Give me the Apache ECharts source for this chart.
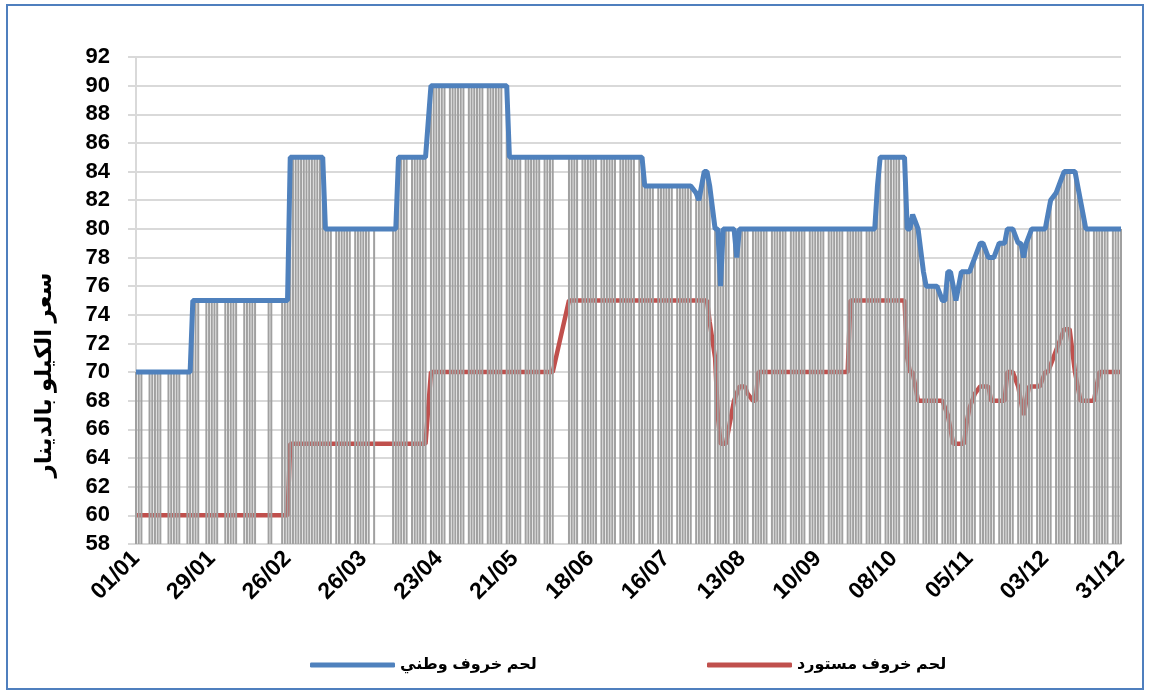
<!DOCTYPE html>
<html><head><meta charset="utf-8">
<script src="https://cdn.jsdelivr.net/npm/echarts@6/dist/echarts.min.js"></script>
<style>html,body{margin:0;padding:0;background:#fff}#c{width:1149px;height:693px}</style>
</head><body><div id="c"></div>
<script>
const _ = null;
const monthDays = [31,28,31,30,31,30,31,31,30,31,30,31];
const seriesNames = ['لحم خروف وطني', 'لحم خروف مستورد'];
const yAxisTitle = 'سعر الكيلو بالدينار';
const yMin = 58, yMax = 92, yStep = 2;
const labelEvery = 28;

// لحم خروف وطني (daily, null = no quote)
const localJan = [70,70,70,_,_,70,70,70,70,70,_,_,70,70,70,70,70,_,_,70,70,75,75,75,_,_,75,75,75,75,75];
const localFeb = [_,_,75,75,75,75,75,_,_,75,75,75,75,75,_,_,_,_,75,75,_,_,_,75,75,75,85,85];
const localMar = [85,85,85,85,85,85,85,85,85,85,85,80,80,80,_,80,80,80,80,80,80,_,80,80,80,80,80,80,_,80,_];
const localApr = [_,_,_,_,_,80,80,85,85,85,85,_,85,85,85,85,85,85,_,90,90,90,90,90,90,_,90,90,90,90];
const localMay = [90,90,_,90,90,90,90,90,90,_,90,90,90,90,90,90,_,90,85,85,85,85,85,_,85,85,85,85,85,85,_];
const localJun = [85,85,85,85,_,_,_,_,_,85,85,85,85,_,85,85,85,85,85,85,_,85,85,85,85,85,85,_,85,85];
const localJul = [85,85,85,85,_,85,85,83,83,83,83,_,83,83,83,83,83,83,_,83,83,83,83,83,83,_,82.5,82,83,84,84];
const localAug = [83,_,80,80,76,80,80,80,_,80,78,80,80,80,80,_,80,80,80,80,80,80,_,80,80,80,80,80,80,_,80];
const localSep = [80,80,80,80,80,_,80,80,80,80,80,80,_,80,80,80,80,80,80,_,80,80,80,80,80,80,_,80,80,80];
const localOct = [80,83,85,_,85,85,85,85,85,85,_,85,80,80,81,80.5,80,_,77,76,76,76,76,76,_,75,75,77,77,76,75];
const localNov = [_,77,77,77,77,77.5,78,_,79,79,78.5,78,78,78,_,79,79,79,80,80,80,_,79,79,78,79,79.5,80,_,80];
const localDec = [80,80,80,81,82,_,82.5,83,83.5,84,84,84,_,84,83,82,81,80,80,_,80,80,80,80,80,80,_,80,80,80,80];

// لحم خروف مستورد
const importJan = [60,60,60,_,_,60,60,60,60,60,_,_,60,60,60,60,60,_,_,60,60,60,60,60,_,_,60,60,60,60,60];
const importFeb = [_,_,60,60,60,60,60,_,_,60,60,60,60,60,_,_,_,_,60,60,_,_,_,60,60,60,65,65];
const importMar = [65,65,65,65,65,65,65,65,65,65,65,65,65,65,_,65,65,65,65,65,65,_,65,65,65,65,65,65,_,65,_];
const importApr = [_,_,_,_,_,65,65,65,65,65,65,_,65,65,65,65,65,65,_,70,70,70,70,70,70,_,70,70,70,70];
const importMay = [70,70,_,70,70,70,70,70,70,_,70,70,70,70,70,70,_,70,70,70,70,70,70,_,70,70,70,70,70,70,_];
const importJun = [70,70,70,70,_,_,_,_,_,75,75,75,75,_,75,75,75,75,75,75,_,75,75,75,75,75,75,_,75,75];
const importJul = [75,75,75,75,_,75,75,75,75,75,75,_,75,75,75,75,75,75,_,75,75,75,75,75,75,_,75,75,75,75,75];
const importAug = [73.5,_,71,67,65,65,65,66,_,68,68.5,69,69,69,68.5,_,68,68,70,70,70,70,_,70,70,70,70,70,70,_,70];
const importSep = [70,70,70,70,70,_,70,70,70,70,70,70,_,70,70,70,70,70,70,_,70,75,75,75,75,75,_,75,75,75];
const importOct = [75,75,75,_,75,75,75,75,75,75,_,75,71,70,70,69,68,_,68,68,68,68,68,68,_,68,67.5,67,66,65,65];
const importNov = [_,65,65,66.5,67.5,68,68.5,_,69,69,69,69,68,68,_,68,68,68,70,70,70,_,69,68,67,68,69,69,_,69];
const importDec = [69,69.5,70,70,70.5,_,71.5,72,72.5,73,73,73,_,70,69,68,68,68,68,_,68,69,70,70,70,70,_,70,70,70,70];

const localPrice = [].concat(localJan,localFeb,localMar,localApr,localMay,localJun,localJul,localAug,localSep,localOct,localNov,localDec);
const importPrice = [].concat(importJan,importFeb,importMar,importApr,importMay,importJun,importJul,importAug,importSep,importOct,importNov,importDec);

const pad = n => (n < 10 ? '0' : '') + n;
const categories = [];
monthDays.forEach((len, m) => { for (let d = 1; d <= len; d++) categories.push(pad(d) + '/' + pad(m + 1)); });

const dropData = [];
localPrice.forEach((v, i) => { if (v !== null) dropData.push([i, Math.max(v, importPrice[i] ?? v)]); });

const FONT = "'Liberation Sans', 'DejaVu Sans', Arial, sans-serif";
const GRID = '#d9d9d9';
const legendText = {fontFamily: FONT, fontWeight: 'bold', fontSize: 16, color: '#000'};

const chart = echarts.init(document.getElementById('c'), null, {renderer: 'canvas'});
chart.setOption({
  animation: false,
  backgroundColor: '#ffffff',
  grid: {left: 136, right: 28, top: 57, bottom: 149, containLabel: false},
  xAxis: {
    type: 'category', data: categories, boundaryGap: false,
    axisLine: {show: true, lineStyle: {color: GRID, width: 2}},
    axisTick: {show: false},
    splitLine: {show: false},
    axisLabel: {
      interval: i => i % labelEvery === 0,
      rotate: 45, margin: 11,
      fontFamily: FONT, fontWeight: 'bold', fontSize: 23, color: '#000'
    }
  },
  yAxis: {
    type: 'value', min: yMin, max: yMax, interval: yStep,
    axisLine: {show: true, lineStyle: {color: GRID, width: 2}},
    axisTick: {show: true, length: 8, lineStyle: {color: GRID, width: 2}},
    splitLine: {show: true, lineStyle: {color: GRID, width: 2}},
    axisLabel: {margin: 26, fontFamily: FONT, fontWeight: 'bold', fontSize: 22, color: '#000'}
  },
  legend: [
    {data: [seriesNames[0]], top: 652, left: 305, icon: 'roundRect', itemWidth: 85, itemHeight: 5,
     textStyle: legendText},
    {data: [seriesNames[1]], top: 652, left: 702, icon: 'roundRect', itemWidth: 85, itemHeight: 5,
     textStyle: legendText}
  ],
  graphic: [
    {type: 'rect', shape: {x: 7, y: 5, width: 1136, height: 684},
     style: {fill: 'none', stroke: '#4f7fbe', lineWidth: 2}, z: 100, silent: true},
    {type: 'text', x: 45, y: 375, rotation: Math.PI / 2,
     style: {text: yAxisTitle, font: "bold 23px " + FONT, fill: '#000',
             align: 'center', verticalAlign: 'middle', textAlign: 'center', textVerticalAlign: 'middle'},
     silent: true}
  ],
  series: [
    {
      name: seriesNames[1], type: 'line', data: importPrice, connectNulls: true,
      showSymbol: false, symbol: 'none', z: 1,
      lineStyle: {color: '#c0504d', width: 4.5}, itemStyle: {color: '#c0504d'}
    },
    {
      name: 'drop', type: 'custom', silent: true, z: 2,
      encode: {x: 0, y: 1},
      renderItem: (params, api) => {
        const top = api.coord([api.value(0), api.value(1)]);
        const bot = api.coord([api.value(0), yMin]);
        return {type: 'line', shape: {x1: top[0], y1: top[1], x2: bot[0], y2: bot[1]},
                style: {stroke: '#a0a0a0', lineWidth: 2}};
      },
      data: dropData
    },
    {
      name: seriesNames[0], type: 'line', data: localPrice, connectNulls: true,
      showSymbol: false, symbol: 'none', z: 3,
      lineStyle: {color: '#4f81bd', width: 5}, itemStyle: {color: '#4f81bd'}
    }
  ]
});
</script></body></html>
